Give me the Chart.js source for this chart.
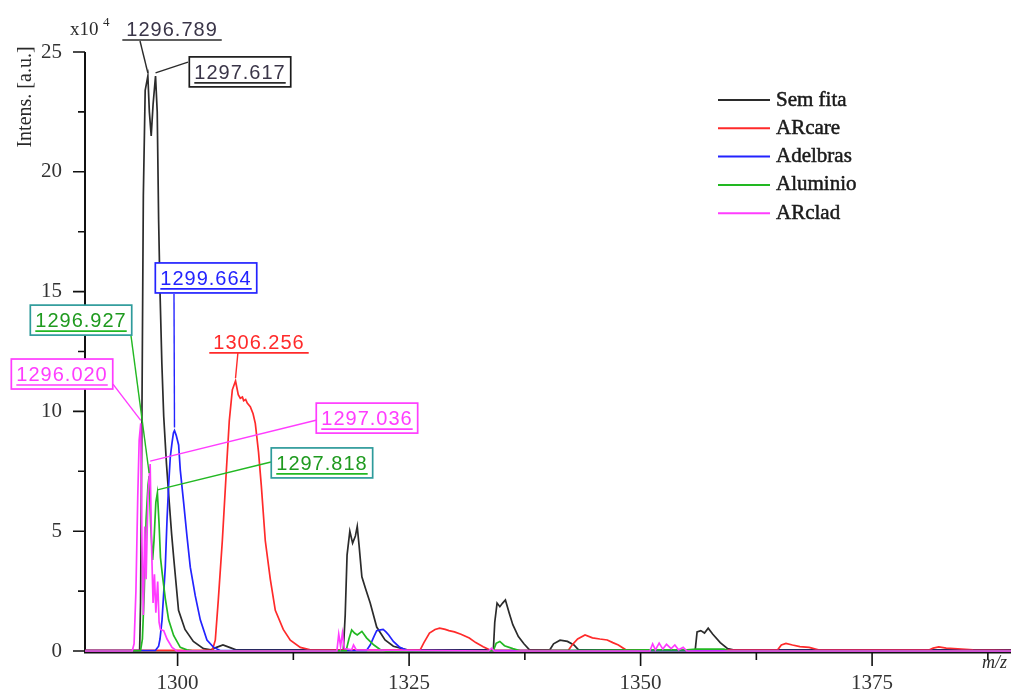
<!DOCTYPE html>
<html>
<head>
<meta charset="utf-8">
<script src="https://cdn.jsdelivr.net/npm/chart.js@4/dist/chart.umd.min.js"></script>
<style>
  html, body { margin: 0; padding: 0; background: #ffffff; }
  canvas { display: block; }
</style>
</head>
<body>
<canvas id="spectrum" width="1013" height="693"></canvas>
<script>
// ---- Spectra (m/z, intensity in units of 10^4 a.u.) ----
const seriesNames  = ['Sem fita', 'ARcare', 'Adelbras', 'Aluminio', 'ARclad'];
const seriesColors = ['#2b2b2b', '#ff2a2a', '#2323ff', '#22b822', '#ff3cff'];

const semFitaMz  = [1290, 1295.9, 1296.0, 1296.15, 1296.3, 1296.5, 1296.789, 1296.95, 1297.15, 1297.35, 1297.617, 1297.8, 1297.95, 1298.1, 1298.3, 1298.5, 1298.8, 1299.1, 1299.35, 1299.6, 1300.1, 1300.8, 1301.7, 1302.8, 1303.6, 1304.2, 1304.9, 1305.6, 1306.3, 1317.9, 1318.1, 1318.3, 1318.6, 1318.9, 1319.2, 1319.4, 1319.6, 1319.9, 1320.3, 1320.8, 1321.5, 1322.4, 1323.3, 1324.8, 1334.1, 1334.25, 1334.5, 1334.8, 1335.1, 1335.4, 1335.8, 1336.2, 1336.8, 1337.4, 1338.0, 1340.2, 1340.6, 1341.3, 1342.1, 1342.8, 1343.3, 1355.9, 1356.1, 1356.5, 1356.9, 1357.3, 1357.8, 1358.6, 1359.4, 1360.0, 1390];
const semFitaInt = [0.02, 0.02, 2, 10, 19, 23.4, 24.0, 22.5, 21.5, 22.8, 24.0, 22.5, 18, 15, 12, 9.8, 7.8, 6.2, 4.9, 3.8, 1.7, 0.9, 0.4, 0.1, 0.05, 0.15, 0.25, 0.15, 0.05, 0.05, 1.5, 4.0, 5.0, 4.5, 4.8, 5.2, 4.4, 3.1, 2.6, 2.0, 1.0, 0.46, 0.2, 0.05, 0.05, 1.2, 2.0, 1.85, 2.0, 2.13, 1.6, 1.1, 0.6, 0.3, 0.05, 0.05, 0.3, 0.45, 0.4, 0.25, 0.05, 0.05, 0.8, 0.85, 0.75, 0.95, 0.7, 0.35, 0.1, 0.05, 0.05];

const arcareMz  = [1290, 1303.75, 1304.07, 1304.39, 1304.83, 1305.26, 1305.58, 1305.91, 1306.256, 1306.55, 1306.77, 1307.0, 1307.13, 1307.35, 1307.52, 1307.85, 1308.15, 1308.39, 1308.74, 1309.04, 1309.47, 1310.01, 1310.55, 1311.41, 1312.17, 1313.25, 1314.33, 1326.2, 1326.6, 1327.2, 1327.8, 1328.3, 1328.9, 1329.3, 1329.9, 1330.6, 1331.5, 1332.2, 1333.0, 1333.8, 1342.2, 1342.6, 1343.2, 1344.0, 1344.8, 1345.6, 1346.4, 1347.0, 1347.6, 1348.4, 1364.8, 1365.2, 1365.7, 1366.4, 1367.2, 1368.2, 1369.2, 1381.2, 1381.6, 1382.2, 1383.0, 1385.9, 1390];
const arcareInt = [0.03, 0.03, 0.45, 2.1, 4.6, 7.5, 9.6, 10.9, 11.27, 10.7, 10.55, 10.6, 10.45, 10.5, 10.35, 10.2, 9.9, 9.5, 8.3, 6.9, 4.6, 3.0, 1.7, 0.9, 0.45, 0.15, 0.05, 0.05, 0.35, 0.75, 0.9, 0.95, 0.9, 0.85, 0.8, 0.7, 0.54, 0.35, 0.18, 0.03, 0.03, 0.25, 0.5, 0.67, 0.55, 0.5, 0.46, 0.35, 0.25, 0.05, 0.05, 0.25, 0.32, 0.25, 0.18, 0.15, 0.05, 0.05, 0.12, 0.17, 0.12, 0.05, 0.03];

const adelbrasMz  = [1290, 1297.6, 1297.95, 1298.1, 1298.32, 1298.67, 1298.86, 1299.03, 1299.21, 1299.4, 1299.55, 1299.664, 1299.85, 1300.11, 1300.29, 1300.65, 1301.01, 1301.37, 1301.91, 1302.45, 1303.17, 1303.89, 1304.6, 1320.4, 1320.8, 1321.2, 1321.5, 1321.9, 1322.2, 1322.5, 1322.8, 1323.3, 1324.0, 1324.8, 1390];
const adelbrasInt = [0.02, 0.02, 0.2, 0.5, 1.3, 3.5, 5.5, 6.9, 8.1, 8.7, 9.1, 9.2, 9.0, 8.6, 7.55, 6.2, 4.8, 3.5, 2.3, 1.3, 0.46, 0.15, 0.02, 0.02, 0.25, 0.6, 0.85, 0.88, 0.9, 0.8, 0.67, 0.4, 0.15, 0.02, 0.02];

const aluminioMz  = [1290, 1296.0, 1296.2, 1296.4, 1296.6, 1296.8, 1296.927, 1297.1, 1297.3, 1297.45, 1297.65, 1297.818, 1298.0, 1298.15, 1298.35, 1298.67, 1299.03, 1299.57, 1300.29, 1301.0, 1301.6, 1318.2, 1318.5, 1318.8, 1319.1, 1319.4, 1319.9, 1320.4, 1321.2, 1321.9, 1322.5, 1334.1, 1334.4, 1334.8, 1335.3, 1336.2, 1337.0, 1351.0, 1355.0, 1356.0, 1359.0, 1359.5, 1390];
const aluminioInt = [0.01, 0.01, 0.5, 2.5, 5.5, 6.9, 7.3, 5.2, 3.8, 4.6, 6.2, 6.6, 5.3, 3.9, 3.2, 2.2, 1.3, 0.65, 0.15, 0.05, 0.01, 0.01, 0.5, 0.88, 0.75, 0.67, 0.82, 0.55, 0.25, 0.05, 0.01, 0.01, 0.32, 0.4, 0.22, 0.1, 0.01, 0.05, 0.05, 0.08, 0.08, 0.01, 0.01];

const arcladMz  = [1290, 1295.1, 1295.3, 1295.5, 1295.7, 1295.85, 1296.02, 1296.15, 1296.3, 1296.45, 1296.6, 1296.8, 1297.036, 1297.2, 1297.35, 1297.5, 1297.65, 1297.85, 1298.0, 1298.15, 1298.5, 1298.86, 1299.4, 1299.9, 1317.2, 1317.4, 1317.6, 1317.8, 1318.0, 1318.8, 1319.0, 1319.3, 1333.6, 1333.9, 1334.2, 1351.0, 1351.3, 1351.6, 1352.0, 1352.4, 1352.8, 1353.3, 1353.7, 1354.1, 1354.6, 1355.0, 1390];
const arcladInt = [0, 0, 0.3, 2.5, 6.5, 8.8, 9.5, 4.5, 1.5, 5.2, 3.0, 6.5, 7.8, 4.2, 2.0, 3.2, 1.6, 2.9, 1.2, 0.9, 0.85, 0.5, 0.15, 0, 0, 0.7, 0.2, 0.75, 0.1, 0.05, 0.25, 0.05, 0, 0.12, 0, 0, 0.3, 0.05, 0.33, 0.08, 0.28, 0.1, 0.25, 0.05, 0.15, 0, 0];

const seriesMz  = [semFitaMz, arcareMz, adelbrasMz, aluminioMz, arcladMz];
const seriesInt = [semFitaInt, arcareInt, adelbrasInt, aluminioInt, arcladInt];

// ---- Axis ticks ----
const mzMajorTicks  = [1300, 1325, 1350, 1375];
const mzMinorTicks  = [1312.5, 1337.5, 1362.5, 1387.5];
const intMajorTicks = [0, 5, 10, 15, 20, 25];
const intMinorTicks = [2.5, 7.5, 12.5, 17.5, 22.5];

// ---- Peak labels: which series and which m/z peak ----
const peakSeries = [0, 0, 2, 1, 3, 4, 4, 3];
const peakMz     = [1296.789, 1297.617, 1299.664, 1306.256, 1296.927, 1296.020, 1297.036, 1297.818];

// Label placement (data coordinates): text centre, leader start, box style
const labelLayout = [
  { at: [1299.40, 25.96], from: [1295.94, 25.46], box: null },
  { at: [1306.74, 24.17], from: [1301.12, 24.58], box: '#1a1a1a' },
  { at: [1303.07, 15.57], from: [1299.61, 14.90], box: '#2323ff' },
  { at: [1308.79, 12.90], from: [1306.52, 12.48], box: null },
  { at: [1289.57, 13.81], from: [1294.97, 13.15], box: '#2e9b9b' },
  { at: [1287.52, 11.56], from: [1293.02, 11.14], box: '#ff3cff' },
  { at: [1320.45,  9.72], from: [1315.05,  9.64], box: '#ff3cff' },
  { at: [1315.59,  7.85], from: [1310.09,  7.89], box: '#2e9b9b' }
];
const labelTextColors = ['#3a3548', '#3a3548', '#2323ff', '#ff2a2a', '#1f9a1f', '#ff3cff', '#ff3cff', '#1f9a1f'];

const SERIF = '"Liberation Serif", "DejaVu Serif", serif';
const SANS  = '"Liberation Sans", Arial, sans-serif';

const datasets = seriesNames.map((name, s) => ({
  label: name,
  data: seriesMz[s].map((m, i) => ({ x: m, y: seriesInt[s][i] })),
  borderColor: seriesColors[s],
  backgroundColor: seriesColors[s],
  borderWidth: 1.7,
  pointRadius: 0,
  tension: 0,
  fill: false,
  clip: false,
  order: [4, 3, 2, 1, 0][s]
}));

const decorPlugin = {
  id: 'decor',
  beforeDatasetsDraw(chart) {
    const { ctx, chartArea: a, scales: { x, y } } = chart;
    ctx.save();
    ctx.strokeStyle = '#111';
    ctx.lineWidth = 2;
    ctx.beginPath();
    ctx.moveTo(a.left, a.top);
    ctx.lineTo(a.left, a.bottom + 1.5);
    ctx.lineTo(a.right, a.bottom + 1.5);
    ctx.stroke();
    ctx.lineWidth = 1.6;
    ctx.beginPath();
    intMajorTicks.forEach(v => { const p = y.getPixelForValue(v); ctx.moveTo(a.left, p); ctx.lineTo(a.left - 12, p); });
    intMinorTicks.forEach(v => { const p = y.getPixelForValue(v); ctx.moveTo(a.left, p); ctx.lineTo(a.left - 7, p); });
    mzMajorTicks.forEach(v => { const p = x.getPixelForValue(v); ctx.moveTo(p, a.bottom + 1.5); ctx.lineTo(p, a.bottom + 15); });
    mzMinorTicks.forEach(v => { const p = x.getPixelForValue(v); ctx.moveTo(p, a.bottom + 1.5); ctx.lineTo(p, a.bottom + 9); });
    ctx.stroke();
    ctx.restore();
  },
  afterDatasetsDraw(chart) {
    const { ctx, scales: { x, y } } = chart;
    ctx.save();
    ctx.font = '20px ' + SANS;
    ctx.letterSpacing = '1px';
    peakMz.forEach((mz, k) => {
      const s = peakSeries[k];
      const idx = seriesMz[s].indexOf(mz);
      const peakX = x.getPixelForValue(mz);
      const peakY = y.getPixelForValue(seriesInt[s][idx]);
      const lay = labelLayout[k];
      const cx = x.getPixelForValue(lay.at[0]);
      const cy = y.getPixelForValue(lay.at[1]);
      const fx = x.getPixelForValue(lay.from[0]);
      const fy = y.getPixelForValue(lay.from[1]);
      const color = seriesColors[s];
      const text = mz.toFixed(3);
      const w = ctx.measureText(text).width;

      // leader line
      ctx.strokeStyle = color;
      ctx.lineWidth = 1.4;
      ctx.beginPath();
      ctx.moveTo(fx, fy);
      ctx.lineTo(peakX, peakY - 3);
      ctx.stroke();

      // optional frame
      if (lay.box) {
        const bw = w + 10, bh = 30;
        ctx.fillStyle = '#ffffff';
        ctx.fillRect(cx - bw / 2, cy - bh / 2, bw, bh);
        ctx.strokeStyle = lay.box;
        ctx.lineWidth = 1.7;
        ctx.strokeRect(cx - bw / 2, cy - bh / 2, bw, bh);
      }

      // text + underline
      const base = cy + 7;
      ctx.fillStyle = labelTextColors[k];
      ctx.textAlign = 'center';
      ctx.textBaseline = 'alphabetic';
      ctx.fillText(text, cx, base);
      const uw = lay.box ? w : w + 8;
      ctx.strokeStyle = color;
      ctx.lineWidth = 1.7;
      ctx.beginPath();
      ctx.moveTo(cx - uw / 2, base + 4);
      ctx.lineTo(cx + uw / 2, base + 4);
      ctx.stroke();
    });
    ctx.restore();
  },
  afterDraw(chart) {
    const { ctx } = chart;
    ctx.save();
    // legend
    ctx.font = '21px ' + SERIF;
    ctx.textAlign = 'left';
    ctx.textBaseline = 'middle';
    chart.data.datasets.forEach((ds, i) => {
      const ly = 100 + i * 28.3;
      ctx.strokeStyle = ds.borderColor;
      ctx.lineWidth = 2;
      ctx.beginPath();
      ctx.moveTo(718, ly);
      ctx.lineTo(770, ly);
      ctx.stroke();
      ctx.fillStyle = '#1a1a1a';
      ctx.strokeStyle = '#1a1a1a';
      ctx.lineWidth = 0.5;
      ctx.fillText(ds.label, 776, ly);
      ctx.strokeText(ds.label, 776, ly);
    });
    // y axis title and exponent
    ctx.fillStyle = '#2a2a2a';
    ctx.save();
    ctx.translate(26, 97);
    ctx.rotate(-Math.PI / 2);
    ctx.textAlign = 'center';
    ctx.font = '20px ' + SERIF;
    ctx.fillText('Intens. [a.u.]', 0, 0);
    ctx.restore();
    ctx.textBaseline = 'alphabetic';
    ctx.font = '19px ' + SERIF;
    ctx.fillText('x10', 70, 35);
    ctx.font = '13px ' + SERIF;
    ctx.fillText('4', 103, 26);
    // x axis title
    ctx.font = 'italic 18px ' + SERIF;
    ctx.fillText('m/z', 982, 668);
    ctx.restore();
  }
};

new Chart(document.getElementById('spectrum'), {
  type: 'line',
  data: { datasets },
  options: {
    responsive: false,
    animation: false,
    events: [],
    layout: { padding: { top: 52, right: 2, left: 0, bottom: 0 } },
    plugins: { legend: { display: false }, tooltip: { enabled: false } },
    scales: {
      x: {
        type: 'linear',
        min: 1290,
        max: 1390,
        afterFit(scale) { scale.height = 42; },
        afterBuildTicks(scale) { scale.ticks = mzMajorTicks.map(v => ({ value: v })); },
        grid: { display: false, drawTicks: false },
        border: { display: false },
        ticks: {
          padding: 20,
          autoSkip: false,
          maxRotation: 0,
          color: '#333',
          font: { family: SERIF, size: 21 },
          callback: v => String(v)
        }
      },
      y: {
        type: 'linear',
        min: 0,
        max: 25,
        afterFit(scale) { scale.width = 85; },
        afterBuildTicks(scale) { scale.ticks = intMajorTicks.map(v => ({ value: v })); },
        grid: { display: false, drawTicks: false },
        border: { display: false },
        ticks: {
          padding: 23,
          color: '#333',
          font: { family: SERIF, size: 21 },
          callback: v => String(v)
        }
      }
    }
  },
  plugins: [decorPlugin]
});
</script>
</body>
</html>
